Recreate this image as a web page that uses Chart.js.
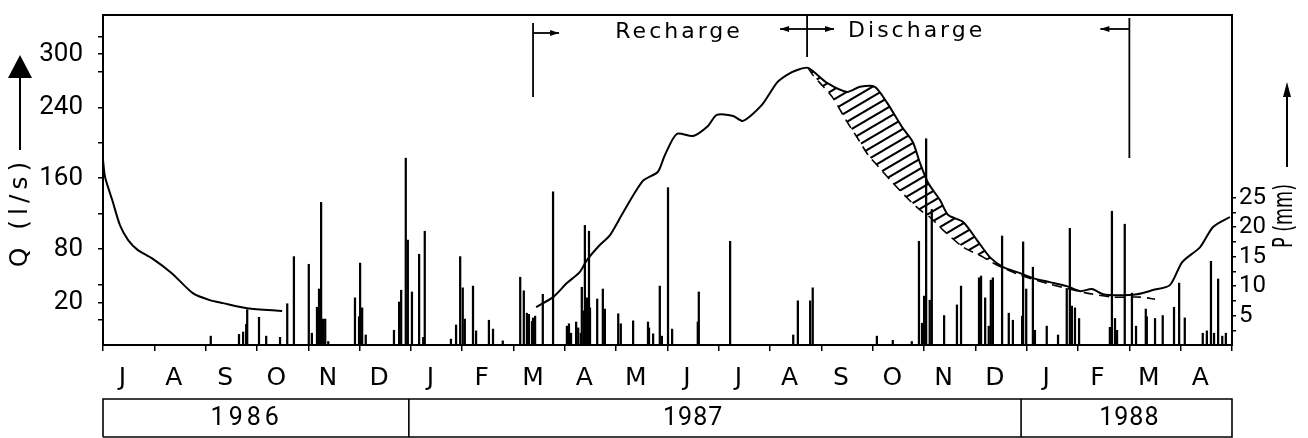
<!DOCTYPE html>
<html><head><meta charset="utf-8">
<script src="https://cdn.jsdelivr.net/npm/chart.js@4.4.1/dist/chart.umd.min.js"></script>
<style>html,body{margin:0;padding:0;background:#fff;}canvas{display:block;}</style>
</head><body>
<canvas id="c" width="1308" height="438"></canvas>
<script>
// x unit: month index, 0 = 1 July 1986, 22 = 1 May 1988
const monthLabels = ['J','A','S','O','N','D','J','F','M','A','M','J','J','A','S','O','N','D','J','F','M','A'];
const yearLabels = ['1986','1987','1988'];
const yearBounds = [0, 5.96, 17.89, 22];
const yearLabelAt = [2.8, 11.5, 20.0];
const qTickLabels = [20, 80, 160, 240, 300];
const qMinorTicks = [0, 40, 120, 200, 280, 320];
const pTickLabels = [5, 10, 15, 20, 25];
const pMinorTicks = [2.5, 7.5, 12.5, 17.5, 22.5];
const phaseMarks = [8.38, 13.72, 20.0];   // recharge start, discharge start, discharge end
const phaseLabels = ['Recharge', 'Discharge'];

// discharge Q (l/s)
const qMonths = [0, 0.04, 0.18, 0.33, 0.49, 0.68, 0.95, 1.34, 1.75, 2.08, 2.34, 2.81, 3.49, 5.0,
  8.44, 8.77, 9.04, 9.29, 9.43, 9.68, 9.88, 10.13, 10.52, 10.81, 10.95, 11.18, 11.50, 11.79, 11.96, 12.28, 12.47, 12.84, 13.13, 13.33, 13.54, 13.74,
  14.11, 14.50, 14.75, 15.04, 15.28, 15.57, 15.78, 15.92, 16.08, 16.31, 16.47, 16.76, 17.03, 17.28, 17.54, 17.87, 18.12, 18.45, 18.78, 19.04, 19.27, 19.49, 19.76, 20.15, 20.46, 20.79, 21.03, 21.38, 21.63, 21.96];
const qValues = [180.6, 161.4, 135.4, 107.2, 90.3, 79.0, 70.0, 53.0, 30.5, 22.6, 19.2, 13.5, 10.2, null,
  14.7, 26.0, 41.8, 54.2, 67.7, 84.7, 95.9, 120.8, 156.9, 167.0, 186.2, 209.9, 207.7, 219.0, 231.4, 230.2, 224.6, 242.7, 267.5, 276.5, 282.2, 284.4,
  267.5, 257.3, 263.0, 263.0, 244.9, 217.8, 200.9, 177.2, 154.6, 135.4, 118.5, 110.6, 90.3, 71.1, 59.8, 53.0, 47.4, 42.9, 38.4, 32.7, 35.0, 29.3, 28.2, 29.3, 33.9, 39.5, 65.5, 82.4, 105.0, 116.3];

// recession (dashed) curve Q (l/s)
const recMonths = [13.74, 13.83, 13.97, 14.21, 14.50, 14.69, 14.91, 15.08, 15.34, 15.67, 15.92, 16.11, 16.37, 16.76, 17.15, 17.42, 17.87, 18.45, 19.17, 19.68, 20.21, 20.50];
const recValues = [284.4, 276.5, 267.5, 251.7, 223.5, 206.5, 186.2, 174.9, 158.0, 137.7, 124.2, 116.3, 101.6, 82.4, 71.1, 62.1, 50.8, 40.6, 30.5, 26.0, 26.0, 23.7];
const hatchRange = [13.74, 17.54];

// precipitation P (mm)
const pMonths = [2.10, 2.65, 2.73, 2.79, 2.81, 3.04, 3.18, 3.45, 3.59, 3.72, 4.01, 4.07, 4.17, 4.21, 4.25, 4.29, 4.33, 4.39,
  4.91, 4.99, 5.01, 5.05, 5.12, 5.67, 5.77, 5.81, 5.90, 5.94, 6.02, 6.16, 6.24, 6.27,
  6.78, 6.88, 6.96, 7.01, 7.05, 7.21, 7.27, 7.52, 7.60, 7.79, 8.13, 8.20, 8.26, 8.30, 8.36, 8.38, 8.42, 8.57, 8.77,
  9.04, 9.08, 9.12, 9.22, 9.26, 9.31, 9.33, 9.37, 9.39, 9.43, 9.47, 9.49, 9.63, 9.74, 9.78,
  10.04, 10.09, 10.33, 10.62, 10.64, 10.72, 10.85, 10.89, 11.01, 11.09, 11.59, 11.61, 12.22,
  13.45, 13.54, 13.78, 13.83, 15.08, 15.39, 15.76, 15.90, 15.96, 16.00, 16.04, 16.11, 16.15, 16.39, 16.64, 16.72,
  17.07, 17.09, 17.11, 17.19, 17.26, 17.30, 17.34, 17.52, 17.65, 17.73, 17.91, 17.93, 17.99, 18.12, 18.16, 18.39, 18.61,
  18.78, 18.84, 18.88, 18.94, 19.02, 19.62, 19.66, 19.72, 19.76, 19.91, 20.05, 20.13, 20.32, 20.34, 20.50, 20.65,
  20.87, 20.97, 21.08, 21.43, 21.51, 21.59, 21.65, 21.73, 21.81, 21.88];
const pValues = [1.5, 1.8, 2.2, 3.5, 6.0, 4.7, 1.5, 1.3, 7.0, 15.0, 13.7, 2.0, 6.4, 9.5, 24.2, 4.4, 4.4, 0.6,
  8.0, 4.8, 13.9, 6.3, 1.7, 2.5, 7.3, 9.3, 31.7, 17.8, 9.0, 15.4, 1.3, 19.3,
  1.0, 3.4, 15.0, 9.7, 4.4, 10.0, 2.4, 4.2, 2.7, 0.7, 11.5, 9.2, 5.4, 5.2, 4.0, 4.6, 4.9, 8.6, 26.0,
  3.2, 3.6, 2.0, 3.9, 2.9, 2.0, 9.8, 5.8, 20.3, 8.0, 19.3, 6.3, 7.8, 9.5, 6.1,
  5.3, 3.6, 4.1, 3.9, 2.9, 1.9, 10.0, 1.5, 26.7, 2.7, 3.9, 9.0, 17.6,
  1.7, 7.5, 7.5, 9.7, 1.5, 0.8, 0.6, 17.6, 3.7, 8.3, 35.0, 7.6, 23.0, 5.0, 6.8, 10.0,
  11.4, 3.7, 11.7, 8.0, 3.2, 11.0, 11.4, 18.5, 5.4, 4.2, 4.9, 17.5, 9.5, 13.2, 2.5, 3.2, 1.7,
  9.6, 19.8, 6.6, 6.3, 4.5, 3.0, 22.7, 4.5, 2.5, 20.5, 8.8, 3.2, 6.1, 4.8, 4.5, 5.0,
  6.4, 10.5, 4.6, 2.0, 2.4, 14.2, 2.0, 11.2, 1.5, 2.0];

const pts = (xs, ys) => xs.map((x, i) => ({x: x, y: ys[i]}));
const hatchPts = pts(qMonths, qValues).filter(p => p.y !== null && p.x >= hatchRange[0] && p.x <= hatchRange[1]);

function makeHatch() {
  const w = 17, h = 10;
  const c = document.createElement('canvas');
  c.width = w; c.height = h;
  const g = c.getContext('2d');
  g.strokeStyle = '#000'; g.lineWidth = 2;
  g.beginPath();
  for (let k = -1; k <= 3; k++) {
    g.moveTo(-2, h * k + 2 * h / w);
    g.lineTo(w + 2, h * k - (w + 2) * h / w);
  }
  g.stroke();
  return g.createPattern(c, 'repeat');
}

const DIGITS = 'Roboto, "DejaVu Sans", sans-serif';
const WORDS = '"DejaVu Sans", sans-serif';

function arrowH(ctx, x1, y, x2, head) {
  ctx.beginPath(); ctx.moveTo(x1, y); ctx.lineTo(x2, y); ctx.stroke();
  const d = Math.sign(x2 - x1);
  ctx.beginPath(); ctx.moveTo(x2, y); ctx.lineTo(x2 - d * head, y - 3); ctx.lineTo(x2 - d * head, y + 3); ctx.closePath(); ctx.fill();
}

const decor = {
  id: 'decor',
  afterDraw(chart) {
    const {ctx, chartArea: a, scales} = chart;
    const xs = scales.x;
    ctx.save();
    ctx.strokeStyle = '#000'; ctx.fillStyle = '#000';
    ctx.lineWidth = 2;
    ctx.strokeRect(a.left, a.top, a.right - a.left, a.bottom - a.top);

    // phase markers
    ctx.lineWidth = 1.8;
    const m1 = xs.getPixelForValue(phaseMarks[0]);
    const m2 = xs.getPixelForValue(phaseMarks[1]);
    const m3 = xs.getPixelForValue(phaseMarks[2]);
    ctx.beginPath(); ctx.moveTo(m1, a.top + 8); ctx.lineTo(m1, a.top + 82); ctx.stroke();
    arrowH(ctx, m1, a.top + 18, m1 + 26, 9);
    ctx.beginPath(); ctx.moveTo(m2, a.top - 1); ctx.lineTo(m2, a.top + 42); ctx.stroke();
    arrowH(ctx, m2, a.top + 14, m2 - 27, 9);
    arrowH(ctx, m2, a.top + 14, m2 + 27, 9);
    ctx.beginPath(); ctx.moveTo(m3, a.top + 3); ctx.lineTo(m3, a.top + 143); ctx.stroke();
    arrowH(ctx, m3, a.top + 14, m3 - 29, 9);

    ctx.font = '22px ' + WORDS;
    ctx.letterSpacing = '3px';
    ctx.textBaseline = 'middle';
    ctx.textAlign = 'center';
    ctx.fillText(phaseLabels[0], (m1 + m2) / 2 + 9, a.top + 17);
    ctx.textAlign = 'left';
    ctx.fillText(phaseLabels[1], m2 + 41, a.top + 16);

    // axis titles with arrows
    ctx.save();
    ctx.translate(20, 212); ctx.rotate(-Math.PI / 2);
    ctx.font = '25px ' + WORDS; ctx.letterSpacing = '5px'; ctx.textAlign = 'center';
    ctx.fillText('Q (l/s)', 0, 0);
    ctx.restore();
    ctx.lineWidth = 2;
    ctx.beginPath(); ctx.moveTo(20, 150); ctx.lineTo(20, 76); ctx.stroke();
    ctx.beginPath(); ctx.moveTo(8, 78); ctx.lineTo(32, 78); ctx.lineTo(20, 55); ctx.closePath(); ctx.fill();

    ctx.save();
    ctx.translate(1285, 216); ctx.rotate(-Math.PI / 2);
    ctx.font = '26px ' + WORDS; ctx.letterSpacing = '0px'; ctx.textAlign = 'center';
    ctx.fillText('P (mm)', 0, 0, 64);
    ctx.restore();
    ctx.beginPath(); ctx.moveTo(1287, 167); ctx.lineTo(1287, 92); ctx.stroke();
    ctx.beginPath(); ctx.moveTo(1283, 97); ctx.lineTo(1291, 97); ctx.lineTo(1287, 82); ctx.closePath(); ctx.fill();

    // year boxes
    ctx.lineWidth = 1.6;
    const yTop = 399, yBot = 437;
    const bx = yearBounds.map(v => xs.getPixelForValue(v));
    ctx.beginPath();
    ctx.moveTo(bx[0], yBot); ctx.lineTo(bx[0], yTop); ctx.lineTo(bx[bx.length - 1], yTop); ctx.lineTo(bx[bx.length - 1], yBot); ctx.lineTo(bx[0], yBot);
    for (let i = 1; i < bx.length - 1; i++) { ctx.moveTo(bx[i], yTop); ctx.lineTo(bx[i], yBot); }
    ctx.stroke();
    ctx.font = '25px ' + DIGITS; ctx.textAlign = 'center'; ctx.textBaseline = 'middle';
    yearLabels.forEach((t, i) => {
      ctx.letterSpacing = i === 0 ? '4px' : '1px';
      ctx.fillText(t, xs.getPixelForValue(yearLabelAt[i]), 419);
    });
    ctx.restore();
  }
};

const noPad = s => { s.paddingTop = 0; s.paddingBottom = 0; s.paddingLeft = 0; s.paddingRight = 0; };
const axisBlack = {color: '#000', width: 2};
new Chart(document.getElementById('c'), {
  type: 'bar',
  data: {
    datasets: [
      {type: 'line', label: 'Q', data: pts(qMonths, qValues), xAxisID: 'x', yAxisID: 'y',
       borderColor: '#000', borderWidth: 2, pointRadius: 0, tension: 0.25, spanGaps: false, fill: false, order: 1},
      {type: 'line', label: 'recession', data: pts(recMonths, recValues), xAxisID: 'x', yAxisID: 'y',
       borderColor: '#000', borderWidth: 1.6, borderDash: [10, 6], pointRadius: 0, tension: 0.25, fill: false, order: 1},
      {type: 'line', label: 'hatch', data: hatchPts, xAxisID: 'x', yAxisID: 'y',
       borderWidth: 0, borderColor: 'rgba(0,0,0,0)', pointRadius: 0, tension: 0.25,
       fill: {target: 1}, backgroundColor: makeHatch(), order: 2},
      {type: 'bar', label: 'P', data: pts(pMonths, pValues), xAxisID: 'x', yAxisID: 'yP',
       backgroundColor: '#000', borderWidth: 0, barThickness: 1.6, order: 3}
    ]
  },
  options: {
    responsive: false, animation: false, devicePixelRatio: 1,
    layout: {padding: {top: 15, left: 0, right: 0, bottom: 0}},
    plugins: {legend: {display: false}, tooltip: {enabled: false}},
    scales: {
      x: {type: 'linear', position: 'bottom', min: 0, max: 22, offset: false,
          afterBuildTicks: s => { s.ticks = monthLabels.map((_, i) => ({value: i})).concat([{value: 22}]); },
          ticks: {display: false, autoSkip: false},
          grid: {display: true, drawOnChartArea: false, drawTicks: true, tickLength: 6, color: '#000', lineWidth: 1.5, offset: false},
          border: axisBlack,
          afterFit: s => { noPad(s); s.height = 8; }},
      xm: {type: 'linear', position: 'bottom', min: 0, max: 22, offset: false,
           afterBuildTicks: s => { s.ticks = monthLabels.map((_, i) => ({value: i + 0.38})); },
           ticks: {autoSkip: false, maxRotation: 0, padding: 10, color: '#000',
                   font: {family: WORDS, size: 25}, callback: (v, i) => monthLabels[i]},
           grid: {display: false, drawTicks: false}, border: {display: false},
           afterFit: s => { noPad(s); s.height = 85; }},
      y: {type: 'linear', position: 'left', min: -28, max: 344,
          afterBuildTicks: s => { s.ticks = qTickLabels.concat(qMinorTicks).sort((a, b) => a - b).map(v => ({value: v})); },
          ticks: {autoSkip: false, padding: 15, color: '#000', font: {family: DIGITS, size: 26},
                  callback: v => qTickLabels.includes(v) ? String(v) : ''},
          grid: {drawOnChartArea: false, tickLength: 5, color: '#000', lineWidth: 1.5},
          border: axisBlack,
          afterFit: s => { noPad(s); s.width = 103; }},
      yP: {type: 'linear', position: 'right', min: 0, max: 56,
           afterBuildTicks: s => { s.ticks = pTickLabels.concat(pMinorTicks).sort((a, b) => a - b).map(v => ({value: v})); },
           ticks: {autoSkip: false, padding: 3, color: '#000', font: {family: DIGITS, size: 24},
                   callback: v => pTickLabels.includes(v) ? String(v) : ''},
           grid: {drawOnChartArea: false, tickLength: 4, color: '#000', lineWidth: 1.5},
           border: axisBlack,
           afterFit: s => { noPad(s); s.width = 76; }}
    }
  },
  plugins: [decor]
});
</script>
</body></html>
